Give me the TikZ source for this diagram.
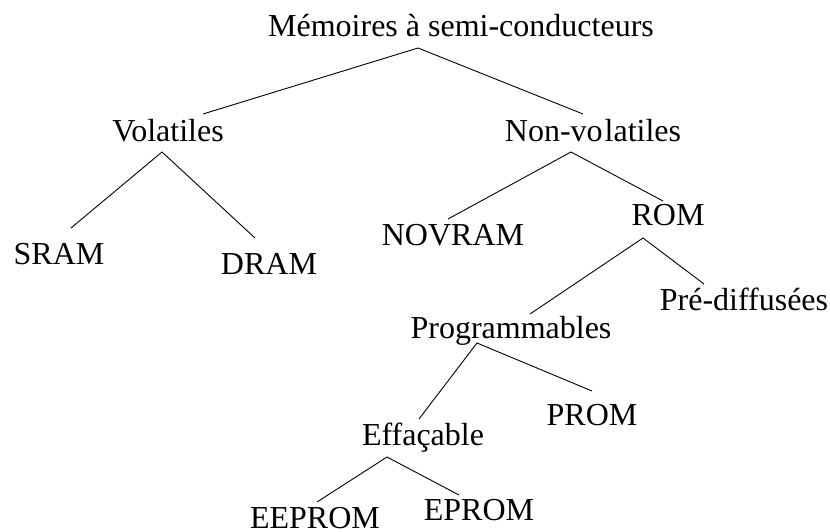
\documentclass[tikz,border=0pt]{standalone}
\usepackage{fontspec}
\setmainfont{Liberation Serif}
\usetikzlibrary{calc}
\begin{document}
\begin{tikzpicture}[x=1pt,y=-1pt,
  label/.style={anchor=base,inner sep=0pt,font=\fontsize{32}{36}\selectfont},
  branch/.style={draw=black,line width=0.9pt}]
\useasboundingbox (0,0) rectangle (830,531);

% tree labels, placed by their baselines
\node[label] (title)   at (461,36)  {Mémoires à semi-conducteurs};
\node[label] (vol)     at (168,141) {Volatiles};
\node[label] (nonvol)  at (593,141) {Non-vo\kern2pt latiles};
\node[label] (sram)    at (59,264)  {SRAM};
\node[label] (dram)    at (269,274) {DRAM};
\node[label] (novram)  at (453,245) {NOVRAM};
\node[label] (rom)     at (668,225) {ROM};
\node[label] (prediff) at (744,310) {Pré-diffusées};
\node[label] (prog)    at (511,338) {Programmables};
\node[label] (prom)    at (592,425) {PROM};
\node[label] (eff)     at (423,445) {Effaçable};
\node[label] (eeprom)  at (315,528) {EEPROM};
\node[label] (eprom)   at (479,520) {EPROM};

% branches
\draw[branch] ($(vol.base)+(35,-27)$) -- ($(title.base)+(-43,12)$) -- ($(nonvol.base)+(-10,-27)$);
\draw[branch] ($(sram.base)+(12,-36)$) -- ($(vol.base)+(-6,11)$) -- ($(dram.base)+(-14,-36)$);
\draw[branch] ($(novram.base)+(-5,-26)$) -- ($(nonvol.base)+(-22,11)$) -- ($(rom.base)+(-5,-24)$);
\draw[branch] ($(prog.base)+(19,-24)$) -- ($(rom.base)+(-25,13)$) -- ($(prediff.base)+(-40,-26)$);
\draw[branch] ($(eff.base)+(-4,-26)$) -- ($(prog.base)+(-34,5)$) -- ($(prom.base)+(0,-34)$);
\draw[branch] ($(eeprom.base)+(2,-26)$) -- ($(eff.base)+(-36,12)$) -- ($(eprom.base)+(-20,-25)$);
\end{tikzpicture}
\end{document}
